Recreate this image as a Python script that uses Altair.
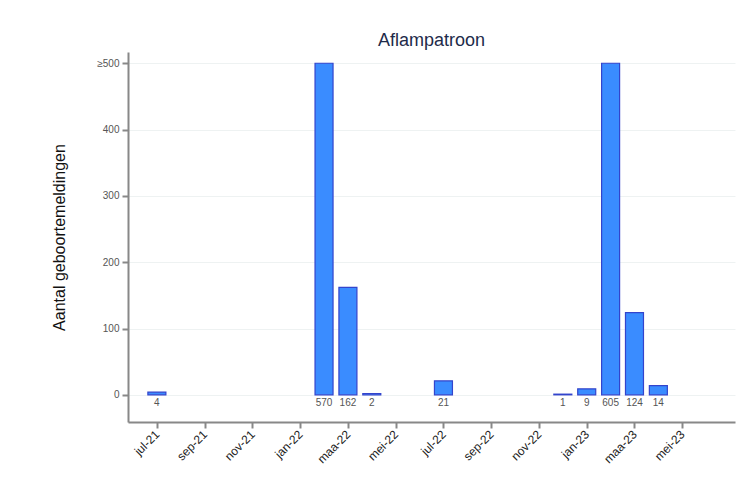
import altair as alt
import pandas as pd

# month index: 0 = jul-21
month_idx = [0, 7, 8, 9, 12, 17, 18, 19, 20, 21]
counts = [4, 570, 162, 2, 21, 1, 9, 605, 124, 14]
tick_labels = ["jul-21", "sep-21", "nov-21", "jan-22", "maa-22", "mei-22",
               "jul-22", "sep-22", "nov-22", "jan-23", "maa-23", "mei-23"]
cap = 500

df = pd.DataFrame({"m": month_idx, "n": counts})
df["bar"] = df["n"].clip(upper=cap)

label_js = "[" + ",".join("'%s'" % t for t in tick_labels) + "]"

x_scale = alt.Scale(domain=[-1, 24], nice=False, zero=False)
y_scale = alt.Scale(domain=[-41, 517], nice=False, zero=False)

x_axis = alt.Axis(
    values=list(range(0, 24, 2)),
    labelExpr=label_js + "[datum.value/2]",
    labelAngle=-45, labelAlign="right", labelBaseline="middle",
    labelFontSize=12, labelColor="#222222", labelFont="Arial",
    grid=False, domainColor="#888888", domainWidth=2, tickColor="#888888",
    tickWidth=2, tickSize=6, title=None, labelPadding=4,
)
y_axis = alt.Axis(
    values=[0, 100, 200, 300, 400, 500],
    labelExpr="datum.value == 500 ? '≥500' : datum.label",
    labelFontSize=10, labelColor="#555555", labelFont="Arial",
    grid=True, gridColor="#eef2f2", gridWidth=1,
    domainColor="#888888", domainWidth=2, tickColor="#888888", tickWidth=2,
    tickSize=6, title="Aantal geboortemeldingen", titleFontSize=16,
    titleFont="Arial", titleFontWeight="normal", titleColor="#111111",
    titlePadding=29, labelPadding=3,
)

bars = alt.Chart(df).mark_bar(
    size=18, color="#3a8cff", stroke="#3344cc", strokeWidth=1.2
).encode(
    x=alt.X("m:Q", scale=x_scale, axis=x_axis),
    y=alt.Y("bar:Q", scale=y_scale, axis=y_axis),
    y2=alt.datum(0),
)

labels = alt.Chart(df).mark_text(
    baseline="top", dy=3, fontSize=10, color="#555555", font="Arial"
).encode(
    x=alt.X("m:Q", scale=x_scale),
    y=alt.datum(0, scale=y_scale),
    text="n:Q",
)

chart = (bars + labels).properties(
    width=607, height=370,
    title=alt.Title("Aflampatroon", fontSize=18, font="Arial",
                    fontWeight="normal", color="#1e2b4a", anchor="middle",
                    offset=2),
    autosize=alt.AutoSizeParams(type="none"),
    padding={"left": 120, "top": 44, "right": 3, "bottom": 60},
).configure_view(stroke=None)

chart.save("out.html", embed_options={"renderer": "svg", "actions": False})
